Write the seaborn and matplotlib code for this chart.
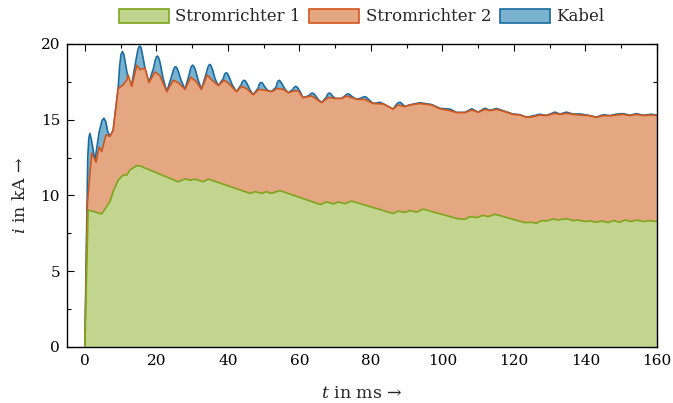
import numpy as np
import matplotlib
matplotlib.use("Agg")
import matplotlib.pyplot as plt
from matplotlib.patches import Patch
from matplotlib.ticker import MultipleLocator
import seaborn as sns

# ---- data (cumulative stack levels, kA over ms) ----
t_sr1 = [0, 0.9, 4.7, 7.0, 7.9, 9.3, 10.7, 11.7, 12.6, 14.5, 15.4, 26.1, 28.0, 29.4, 30.8,
         33.1, 34.5, 46.2, 47.6, 49.4, 50.8, 52.2, 54.5, 65.9, 67.6, 69.5, 70.9, 72.7, 74.6,
         86.2, 87.6, 89.5, 90.9, 92.8, 94.6, 104.0, 106.3, 107.7, 109.6, 111.4, 112.8, 114.7,
         123.0, 124.9, 126.3, 127.7, 129.1, 131.0, 132.4, 134.7, 136.6, 138.0, 139.9, 141.3,
         143.1, 144.5, 146.4, 147.8, 149.7, 151.0, 152.9, 154.3, 156.2, 157.6, 160.0]
i_sr1 = [0, 9.04, 8.78, 9.6, 10.25, 11.0, 11.35, 11.35, 11.68, 11.97, 11.95, 10.9, 11.1, 11.0, 11.08,
         10.9, 11.08, 10.14, 10.25, 10.14, 10.25, 10.14, 10.32, 9.4, 9.58, 9.44, 9.57, 9.46, 9.63,
         8.81, 8.97, 8.88, 9.0, 8.9, 9.1, 8.48, 8.42, 8.6, 8.54, 8.69, 8.6, 8.76,
         8.21, 8.23, 8.16, 8.34, 8.32, 8.45, 8.38, 8.47, 8.34, 8.38, 8.28, 8.32,
         8.23, 8.32, 8.21, 8.34, 8.23, 8.38, 8.28, 8.38, 8.28, 8.34, 8.28]

t_sr2 = [0, 0.7, 1.9, 3.1, 4.0, 4.7, 5.9, 7.0, 7.9, 9.3, 10.7, 11.7, 12.1, 13.1, 14.5, 15.4,
         16.8, 17.9, 19.6, 21.0, 22.9, 24.7, 26.1, 28.0, 29.6, 31.0, 32.6, 34.2, 35.6, 37.3,
         38.9, 40.2, 42.4, 43.8, 45.2, 47.1, 48.6, 50.3, 52.2, 53.9, 55.5, 56.9, 58.5, 59.7,
         61.0, 63.4, 66.2, 68.1, 70.0, 71.8, 73.2, 76.0, 78.3, 80.6, 83.4, 86.2, 87.6, 89.5,
         90.9, 93.7, 97.0, 99.3, 102.1, 104.0, 106.3, 108.2, 110.0, 111.9, 113.3, 115.2, 117.5,
         119.8, 121.7, 123.5, 125.4, 127.3, 129.1, 131.5, 132.9, 134.7, 136.6, 138.5, 140.8,
         143.1, 145.0, 146.9, 148.7, 150.6, 152.4, 154.3, 156.2, 158.5, 160.0]
i_sr2 = [0, 9.5, 12.8, 12.2, 13.2, 12.9, 14.0, 13.9, 14.3, 17.06, 17.3, 17.6, 17.95, 17.2, 18.6, 18.3,
         18.4, 17.45, 18.15, 17.9, 16.85, 17.6, 17.45, 17.0, 17.8, 17.55, 17.0, 17.95, 17.6, 17.25,
         17.6, 17.4, 16.85, 17.2, 17.05, 16.65, 17.0, 16.95, 16.85, 17.06, 17.0, 16.78, 16.9, 16.9,
         16.45, 16.57, 16.13, 16.47, 16.4, 16.4, 16.57, 16.34, 16.34, 16.07, 16.04, 15.7, 15.97, 15.86,
         15.97, 16.07, 15.97, 15.72, 15.6, 15.47, 15.47, 15.64, 15.49, 15.68, 15.6, 15.68, 15.53,
         15.35, 15.31, 15.16, 15.2, 15.31, 15.27, 15.42, 15.35, 15.42, 15.35, 15.31, 15.27,
         15.16, 15.27, 15.25, 15.31, 15.35, 15.27, 15.35, 15.27, 15.31, 15.28]

t_kabel = [0, 0.3, 0.8, 1.1, 1.4, 1.8, 2.8, 4.0, 4.8, 5.3, 5.8, 6.4, 7.0, 7.9, 9.3,
           9.7, 10.1, 10.5, 10.9, 11.4, 12.0, 13.0,
           14.2, 14.8, 15.1, 15.4, 15.7, 16.1, 16.8, 17.9,
           19.2, 19.7, 20.0, 20.3, 20.6, 21.0, 21.8, 22.9,
           24.3, 24.8, 25.1, 25.4, 25.7, 26.1, 26.9, 28.0,
           29.2, 29.6, 29.9, 30.2, 30.5, 30.9, 31.7, 32.6,
           34.0, 34.4, 34.7, 35.0, 35.3, 35.7, 36.4, 37.3,
           38.7, 39.0, 39.3, 39.6, 39.9, 40.3, 41.2, 42.4,
           43.7, 44.0, 44.3, 44.6, 44.9, 45.3, 46.1, 47.1,
           48.5, 48.8, 49.1, 49.4, 49.7, 50.1, 51.0, 52.2,
           53.5, 53.8, 54.1, 54.4, 54.7, 55.1, 56.0, 56.9,
           58.2, 58.5, 58.8, 59.0, 59.3, 59.7, 60.3, 61.0,
           62.8, 63.1, 63.4, 63.7, 64.0, 64.4, 65.2, 66.2,
           67.6, 67.9, 68.2, 68.5, 68.8, 69.2, 70.0, 71.8, 72.9, 73.3, 73.7,
           74.1, 74.6, 76.0, 77.5, 77.9, 78.3, 78.7, 79.3, 80.6, 81.6, 82.5, 83.4, 86.2,
           87.3, 87.7, 88.1, 88.5, 88.9, 89.5,
           90.9, 93.7, 97.0, 99.3, 102.1, 104.0, 106.3, 108.2, 110.0, 111.9, 113.3, 115.2, 117.5,
           119.8, 121.7, 123.5, 125.4, 127.3, 129.1, 131.5, 132.9, 134.7, 136.6, 138.5, 140.8,
           143.1, 145.0, 146.9, 148.7, 150.6, 152.4, 154.3, 156.2, 158.5, 160.0]
i_kabel = [0, 5.0, 12.5, 13.8, 14.1, 13.7, 12.3, 14.2, 14.95, 15.1, 14.9, 14.2, 13.9, 14.3, 17.06,
           18.5, 19.3, 19.5, 19.3, 18.6, 17.8, 17.2,
           18.8, 19.6, 19.8, 19.85, 19.75, 19.3, 18.4, 17.45,
           18.4, 18.95, 19.15, 19.2, 19.1, 18.8, 17.8, 16.85,
           17.9, 18.3, 18.45, 18.5, 18.42, 18.2, 17.6, 17.0,
           18.0, 18.4, 18.55, 18.6, 18.5, 18.3, 17.6, 17.0,
           18.1, 18.45, 18.6, 18.65, 18.55, 18.3, 17.7, 17.25,
           17.7, 17.95, 18.07, 18.1, 18.03, 17.85, 17.3, 16.85,
           17.3, 17.48, 17.57, 17.6, 17.55, 17.4, 17.0, 16.65,
           17.1, 17.35, 17.44, 17.46, 17.4, 17.25, 16.95, 16.85,
           17.15, 17.45, 17.56, 17.6, 17.52, 17.38, 17.0, 16.78,
           17.0, 17.12, 17.18, 17.2, 17.16, 17.05, 16.8, 16.45,
           16.6, 16.7, 16.74, 16.75, 16.72, 16.62, 16.35, 16.13,
           16.5, 16.68, 16.74, 16.75, 16.7, 16.58, 16.4, 16.4, 16.6, 16.68, 16.7,
           16.66, 16.55, 16.34, 16.45, 16.5, 16.52, 16.48, 16.35, 16.07, 16.1, 16.15, 16.06, 15.7,
           16.05, 16.12, 16.15, 16.1, 16.0, 15.87,
           15.98, 16.12, 16.0, 15.75, 15.7, 15.48, 15.48, 15.72, 15.5, 15.76, 15.62, 15.74, 15.55,
           15.37, 15.33, 15.17, 15.25, 15.36, 15.28, 15.5, 15.37, 15.5, 15.37, 15.38, 15.29,
           15.17, 15.33, 15.27, 15.37, 15.4, 15.29, 15.4, 15.29, 15.36, 15.3]

labels = ["Stromrichter 1", "Stromrichter 2", "Kabel"]
x_ticks = [0, 20, 40, 60, 80, 100, 120, 140, 160]
y_ticks = [0, 5, 10, 15, 20]

# ---- style ----
sns.set_theme(style="ticks")
plt.rcParams["font.family"] = ["DejaVu Serif"]
plt.rcParams["mathtext.fontset"] = "dejavuserif"
plt.rcParams["font.size"] = 11

fill_cols = {"Stromrichter 1": "#c2d58e", "Stromrichter 2": "#e5a682", "Kabel": "#7ab2d0"}
edge_cols = {"Stromrichter 1": "#7ea61c", "Stromrichter 2": "#d2561a", "Kabel": "#1a6ba0"}

fig = plt.figure(figsize=(6.73, 4.03), dpi=100)
ax = fig.add_axes([0.0996, 0.139, 0.8764, 0.752])

layers = [("Kabel", t_kabel, i_kabel), ("Stromrichter 2", t_sr2, i_sr2), ("Stromrichter 1", t_sr1, i_sr1)]
for z, (name, tt, ii) in enumerate(layers):
    ax.fill_between(tt, 0, ii, color=fill_cols[name], lw=0, zorder=2 + 2 * z)
    sns.lineplot(x=tt, y=ii, ax=ax, color=edge_cols[name], lw=1.2, estimator=None,
                 sort=False, zorder=3 + 2 * z)

ax.set_xlim(-5, 160)
ax.set_ylim(0, 20)
ax.set_xticks(x_ticks)
ax.set_yticks(y_ticks)
ax.xaxis.set_minor_locator(MultipleLocator(10))
ax.yaxis.set_minor_locator(MultipleLocator(2.5))
ax.tick_params(which="both", direction="in", top=True, right=True, colors="black",
               labelsize=11, width=0.8)
ax.tick_params(which="major", length=5, pad=5)
ax.tick_params(which="minor", length=3)
for sp in ax.spines.values():
    sp.set_color("black")
    sp.set_linewidth(1.0)
    sp.set_zorder(20)
ax.set_xlabel("$t$ in ms →", fontsize=12.5, labelpad=12)
ax.set_ylabel("$i$ in kA →", fontsize=12.5, labelpad=8)

handles = [Patch(facecolor=fill_cols[n], edgecolor=edge_cols[n], lw=1.2, label=n) for n in labels]
fig.legend(handles=handles, loc="center", bbox_to_anchor=(0.537, 0.958), ncol=3, frameon=False,
           fontsize=12, handlelength=3.0, handleheight=0.9, handletextpad=0.4, columnspacing=0.5)

fig.savefig("out.png", dpi=100)
